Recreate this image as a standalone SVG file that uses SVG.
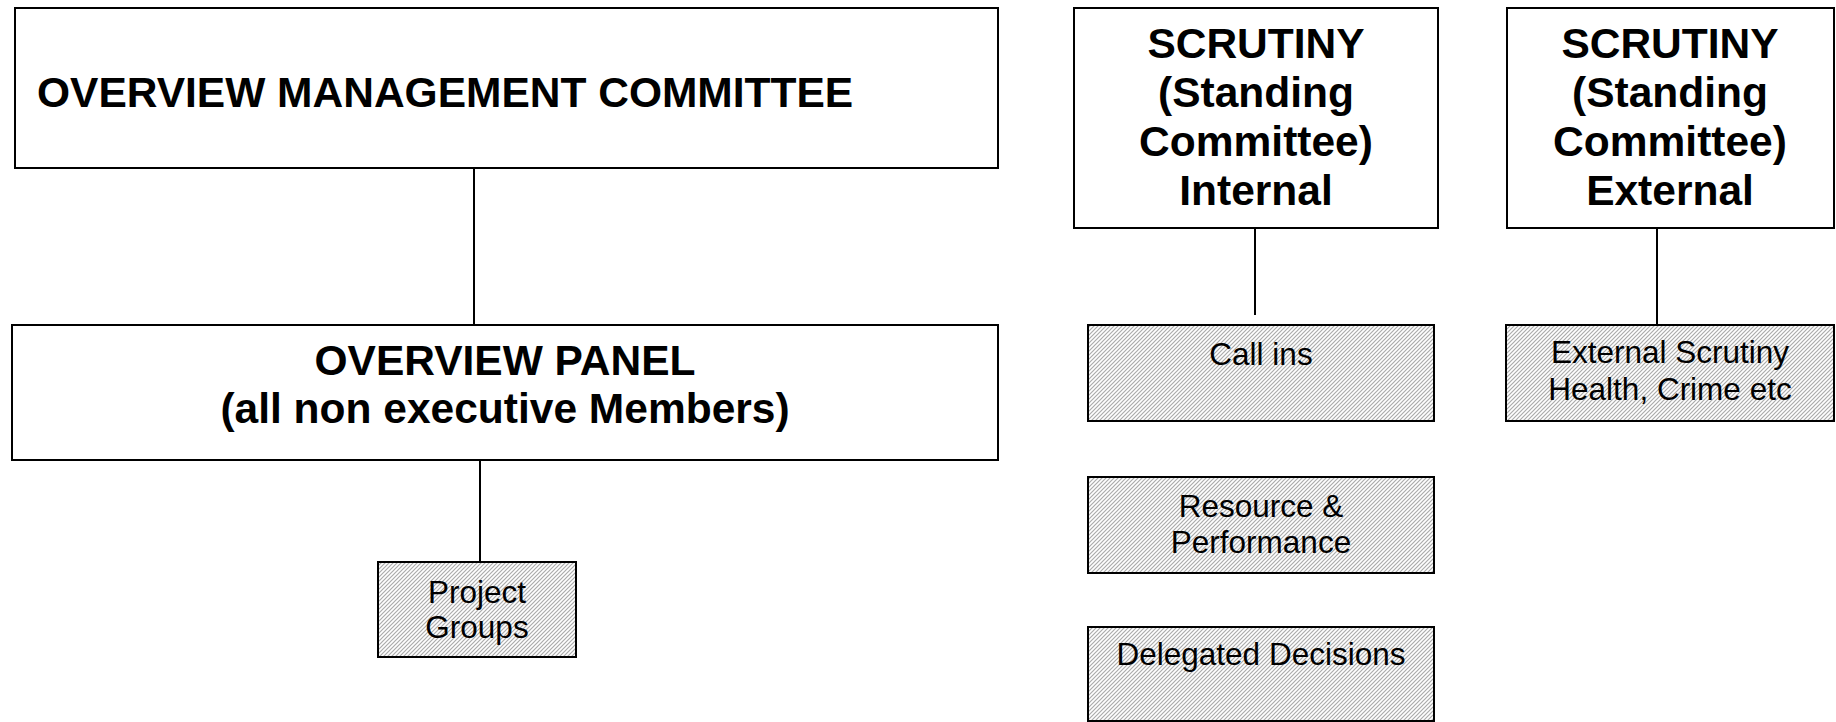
<svg xmlns="http://www.w3.org/2000/svg" width="1836" height="722" viewBox="0 0 1836 722">
  <style>
    .box { fill: #ffffff; stroke: #000000; stroke-width: 2; }
    .hatch { fill: url(#hatch); stroke: #000000; stroke-width: 2; }
    .conn { stroke: #000000; stroke-width: 2; fill: none; }
    .big { font-family: "Liberation Sans", Arial, sans-serif; font-weight: bold; font-size: 42.5px; fill: #000000; }
    .small { font-family: "Liberation Sans", Arial, sans-serif; font-size: 31.5px; fill: #000000; text-anchor: middle; }
    .mid { text-anchor: middle; }
  </style>
  <defs>
    <!-- light diagonal hatching used by the sub-group boxes -->
    <pattern id="hatch" patternUnits="userSpaceOnUse" width="4" height="4">
      <rect width="4" height="4" fill="#ffffff"/>
      <path d="M-1,1 L1,-1 M0,4 L4,0 M3,5 L5,3" stroke="#ababab" stroke-width="1.2"/>
    </pattern>
  </defs>

  <rect width="1836" height="722" fill="#ffffff"/>

  <!-- connectors -->
  <g id="connectors">
    <line class="conn" x1="474" y1="169" x2="474" y2="325"/>
    <line class="conn" x1="480" y1="460" x2="480" y2="562"/>
    <line class="conn" x1="1255" y1="228" x2="1255" y2="315"/>
    <line class="conn" x1="1657" y1="228" x2="1657" y2="325"/>
  </g>

  <g id="overview-management">
    <rect class="box" x="15" y="8" width="983" height="160"/>
    <text class="big" x="37" y="107">OVERVIEW MANAGEMENT COMMITTEE</text>
  </g>

  <g id="overview-panel">
    <rect class="box" x="12" y="325" width="986" height="135"/>
    <text class="big mid" x="505" y="375">OVERVIEW PANEL</text>
    <text class="big mid" x="505" y="423">(all non executive Members)</text>
  </g>

  <g id="project-groups">
    <rect class="hatch" x="378" y="562" width="198" height="95"/>
    <text class="small" x="477" y="603">Project</text>
    <text class="small" x="477" y="638">Groups</text>
  </g>

  <g id="scrutiny-internal">
    <rect class="box" x="1074" y="8" width="364" height="220"/>
    <text class="big mid" x="1256" y="58">SCRUTINY</text>
    <text class="big mid" x="1256" y="107">(Standing</text>
    <text class="big mid" x="1256" y="156">Committee)</text>
    <text class="big mid" x="1256" y="205">Internal</text>
  </g>

  <g id="scrutiny-external">
    <rect class="box" x="1507" y="8" width="327" height="220"/>
    <text class="big mid" x="1670" y="58">SCRUTINY</text>
    <text class="big mid" x="1670" y="107">(Standing</text>
    <text class="big mid" x="1670" y="156">Committee)</text>
    <text class="big mid" x="1670" y="205">External</text>
  </g>

  <g id="call-ins">
    <rect class="hatch" x="1088" y="325" width="346" height="96"/>
    <text class="small" x="1261" y="365">Call ins</text>
  </g>

  <g id="resource-performance">
    <rect class="hatch" x="1088" y="477" width="346" height="96"/>
    <text class="small" x="1261" y="517">Resource &amp;</text>
    <text class="small" x="1261" y="553">Performance</text>
  </g>

  <g id="delegated-decisions">
    <rect class="hatch" x="1088" y="627" width="346" height="94"/>
    <text class="small" x="1261" y="665">Delegated Decisions</text>
  </g>

  <g id="external-scrutiny">
    <rect class="hatch" x="1506" y="325" width="328" height="96"/>
    <text class="small" x="1670" y="363">External Scrutiny</text>
    <text class="small" x="1670" y="400">Health, Crime etc</text>
  </g>
</svg>
